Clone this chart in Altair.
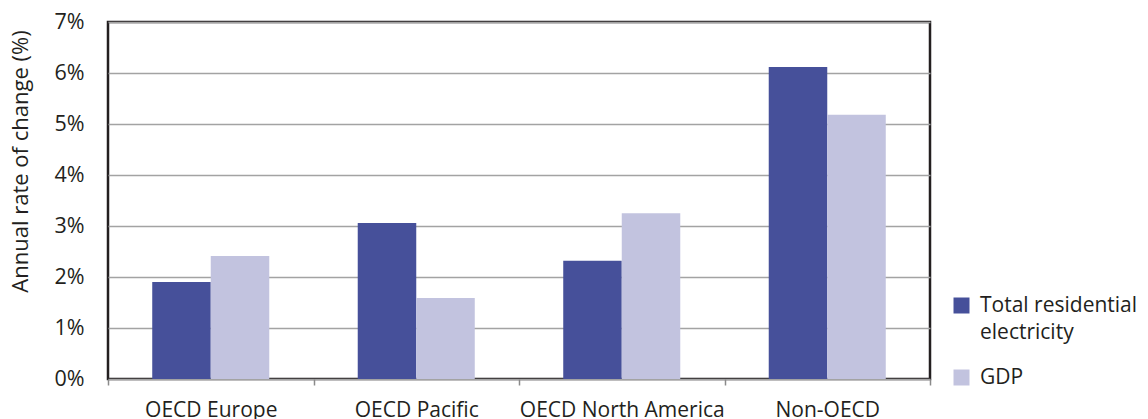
import altair as alt
import pandas as pd

regions = ["OECD Europe", "OECD Pacific", "OECD North America", "Non-OECD"]
series = ["Total residential electricity", "GDP"]
electricity = [1.90, 3.06, 2.32, 6.12]
gdp = [2.41, 1.59, 3.25, 5.18]
y_ticks = [0, 1, 2, 3, 4, 5, 6, 7]
colors = ["#46509a", "#c2c3df"]

rows = []
for r, e, g in zip(regions, electricity, gdp):
    rows.append({"region": r, "series": series[0], "value": e})
    rows.append({"region": r, "series": series[1], "value": g})
df = pd.DataFrame(rows)

FONT = "Open Sans"
W = 400
TXT = "#231f20"

chart = alt.Chart(df).mark_bar().encode(
    x=alt.X("region:N", sort=regions, title=None,
            scale=alt.Scale(paddingInner=0, paddingOuter=0),
            axis=alt.Axis(labelAngle=0, tickBand="extent", tickSize=6, tickColor="#8a8a8a",
                          tickWidth=1.5, domain=False, grid=False, labelPadding=14,
                          labelLimit=400,
                          labelFontSize=21, labelFont=FONT, labelFontWeight=W, labelColor=TXT)),
    xOffset=alt.XOffset("series:N", sort=series,
                        scale=alt.Scale(paddingInner=0, paddingOuter=0.756)),
    y=alt.Y("value:Q", title="Annual rate of change (%)",
            scale=alt.Scale(domain=[0, 7], nice=False),
            axis=alt.Axis(values=y_ticks, labelExpr="datum.value + '%'", ticks=False, domain=False,
                          labelPadding=24, gridColor="#a3a3a3", gridWidth=1.3,
                          labelFontSize=21.5, labelFont=FONT, labelFontWeight=W, labelColor=TXT,
                          titleFontSize=22, titleFont=FONT, titleFontWeight=W, titleColor=TXT,
                          titleX=-76, titleY=139, titleAngle=270, titleAlign="center",
                          titleBaseline="bottom")),
    color=alt.Color("series:N", sort=series,
                    scale=alt.Scale(domain=series, range=colors),
                    legend=alt.Legend(title=None, orient="none", legendX=843, legendY=273,
                                      symbolType="square", symbolSize=256, symbolStrokeWidth=0,
                                      symbolOpacity=1,
                                      labelExpr="datum.label == 'Total residential electricity' ? ['Total residential', 'electricity'] : datum.label",
                                      labelFontSize=21, labelFont=FONT, labelFontWeight=W,
                                      labelColor=TXT, labelOffset=8, labelBaseline="middle",
                                      rowPadding=23, padding=0, labelLimit=300)),
).properties(
    width=822, height=357,
    autosize=alt.AutoSizeParams(type="none"),
    padding={"left": 100, "top": 14, "right": 210, "bottom": 40},
).configure(
    style={"guide-label": {"lineHeight": 27}},
    view=alt.ViewConfig(stroke="#231f20", strokeWidth=2.5),
)

chart.save("out.html", embed_options={"renderer": "svg", "actions": False})
